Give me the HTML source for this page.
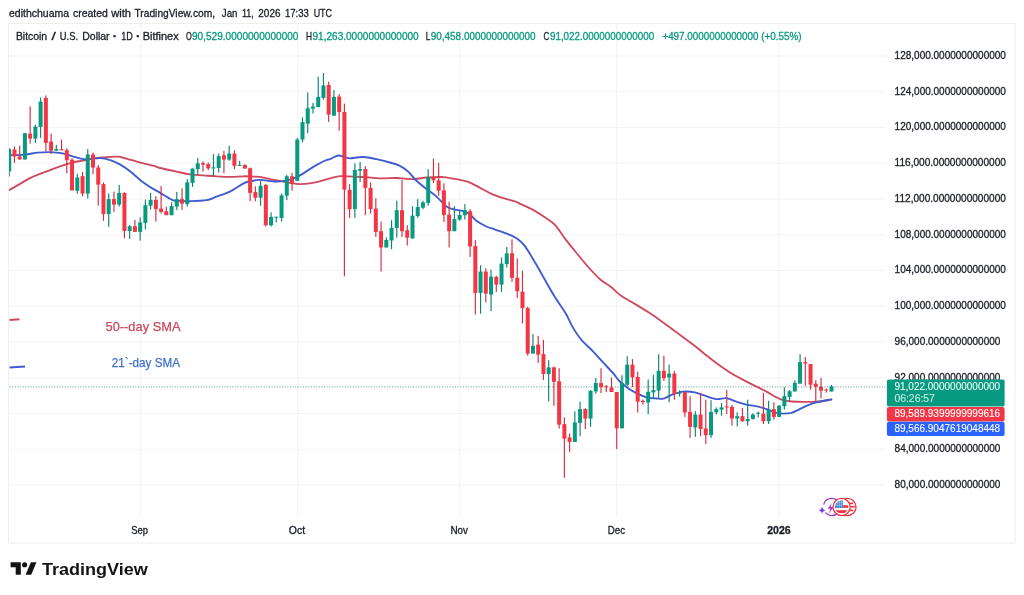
<!DOCTYPE html>
<html lang="en"><head><meta charset="utf-8"><title>BTCUSD chart</title>
<style>html,body{margin:0;padding:0;background:#fff;}svg{display:block;will-change:transform;transform:translateZ(0);}text{font-family:"Liberation Sans", sans-serif;paint-order:stroke;stroke-linejoin:round;}</style>
</head><body>
<svg width="1024" height="595" viewBox="0 0 1024 595">
<rect width="1024" height="595" fill="#ffffff"/>
<rect x="8.5" y="23.5" width="1006.5" height="519.5" fill="none" stroke="#eeeeef" stroke-width="1"/>
<g stroke="#f3f3f4" stroke-width="1">
<line x1="9" y1="56.00" x2="885.5" y2="56.00"/>
<line x1="9" y1="91.75" x2="885.5" y2="91.75"/>
<line x1="9" y1="127.50" x2="885.5" y2="127.50"/>
<line x1="9" y1="163.25" x2="885.5" y2="163.25"/>
<line x1="9" y1="199.00" x2="885.5" y2="199.00"/>
<line x1="9" y1="234.75" x2="885.5" y2="234.75"/>
<line x1="9" y1="270.50" x2="885.5" y2="270.50"/>
<line x1="9" y1="306.25" x2="885.5" y2="306.25"/>
<line x1="9" y1="342.00" x2="885.5" y2="342.00"/>
<line x1="9" y1="377.75" x2="885.5" y2="377.75"/>
<line x1="9" y1="413.50" x2="885.5" y2="413.50"/>
<line x1="9" y1="449.25" x2="885.5" y2="449.25"/>
<line x1="9" y1="485.00" x2="885.5" y2="485.00"/>
<line x1="140.40" y1="24" x2="140.40" y2="517"/>
<line x1="297.60" y1="24" x2="297.60" y2="517"/>
<line x1="459.80" y1="24" x2="459.80" y2="517"/>
<line x1="616.60" y1="24" x2="616.60" y2="517"/>
<line x1="779.10" y1="24" x2="779.10" y2="517"/>
</g>
<defs><clipPath id="cp"><rect x="9" y="24" width="877" height="493"/></clipPath></defs>
<line x1="9.6" y1="386.9" x2="885.4" y2="386.9" stroke="#5f9f93" stroke-width="1.4" stroke-dasharray="1.0 1.62" opacity="0.85"/>
<g clip-path="url(#cp)" fill="none" stroke-width="1.85" stroke-linejoin="round" stroke-linecap="round">
<path d="M8.6 190.4 C10.5 189.3 16.4 186.0 20.0 183.9 C23.6 181.8 26.7 179.8 30.0 178.1 C33.3 176.4 36.7 175.2 40.0 173.9 C43.3 172.6 46.7 171.3 50.0 170.1 C53.3 168.8 56.7 167.6 60.0 166.4 C63.3 165.2 66.2 164.1 70.0 163.1 C73.8 162.1 78.5 161.4 82.7 160.6 C86.9 159.8 91.4 158.7 95.2 158.1 C99.0 157.5 101.5 157.3 105.3 157.1 C109.1 156.8 114.5 156.4 117.8 156.6 C121.1 156.8 121.5 157.3 125.3 158.3 C129.1 159.3 135.4 161.2 140.4 162.6 C145.4 163.9 152.1 165.5 155.4 166.4 C158.7 167.3 156.5 167.1 160.0 168.0 C163.5 168.9 171.6 170.5 176.6 171.6 C181.6 172.7 185.6 173.8 190.0 174.4 C194.4 175.0 198.9 175.1 203.3 175.4 C207.7 175.7 212.2 176.1 216.6 176.3 C221.0 176.6 225.5 176.9 229.9 176.9 C234.3 176.9 239.3 176.4 243.2 176.3 C247.1 176.2 250.4 176.5 253.2 176.6 C256.0 176.7 257.0 176.5 259.8 176.9 C262.6 177.3 266.5 178.4 269.8 179.1 C273.1 179.8 276.5 180.2 279.8 180.8 C283.1 181.4 286.5 182.4 289.8 182.9 C293.1 183.4 296.5 184.0 299.8 184.1 C303.1 184.2 306.5 183.8 309.8 183.3 C313.1 182.8 316.3 182.1 319.7 181.3 C323.1 180.5 326.9 179.1 330.0 178.3 C333.1 177.5 335.5 176.6 338.3 176.3 C341.1 176.0 342.4 176.2 346.6 176.3 C350.8 176.4 357.8 176.7 363.3 177.0 C368.9 177.3 374.3 178.1 379.9 178.3 C385.4 178.5 391.1 177.9 396.6 178.0 C402.2 178.1 408.2 179.2 413.2 179.1 C418.2 179.0 422.1 177.8 426.5 177.5 C430.9 177.2 436.6 177.0 439.8 177.0 C443.1 177.0 443.2 176.9 446.0 177.3 C448.8 177.7 452.9 178.5 456.5 179.2 C460.1 179.9 464.6 180.8 467.5 181.7 C470.4 182.6 471.8 183.5 474.0 184.6 C476.2 185.7 477.7 186.5 480.6 188.1 C483.5 189.7 487.9 192.3 491.5 193.9 C495.1 195.5 498.5 196.7 502.4 197.9 C506.3 199.2 512.0 200.4 515.0 201.4 C518.0 202.4 517.1 202.4 520.1 203.8 C523.1 205.2 528.5 207.3 532.7 209.6 C536.9 211.9 541.5 215.0 545.2 217.6 C549.0 220.2 551.9 221.5 555.2 225.1 C558.5 228.7 561.9 234.5 565.2 238.9 C568.6 243.3 571.5 246.9 575.3 251.5 C579.1 256.1 583.6 261.8 587.8 266.5 C592.0 271.2 596.5 276.2 600.3 279.5 C604.1 282.8 607.0 283.9 610.4 286.5 C613.8 289.1 616.6 292.6 620.4 295.3 C624.1 298.0 628.7 300.3 632.9 302.8 C637.1 305.3 640.9 307.5 645.4 310.4 C649.9 313.2 651.7 314.1 659.7 319.9 C667.7 325.7 686.1 339.3 693.6 345.0 C701.1 350.7 701.1 351.1 704.9 354.2 C708.7 357.2 712.4 360.2 716.6 363.3 C720.8 366.4 725.5 369.7 729.9 372.5 C734.3 375.3 738.8 377.5 743.2 379.9 C747.6 382.2 752.6 384.7 756.5 386.6 C760.4 388.6 763.2 389.8 766.5 391.6 C769.8 393.4 773.7 395.9 776.5 397.3 C779.3 398.7 780.6 399.5 783.1 400.2 C785.6 400.9 788.1 401.2 791.4 401.5 C794.7 401.8 798.9 401.9 803.1 401.9 C807.3 401.9 811.7 402.1 816.4 401.7 C821.1 401.3 828.9 400.0 831.4 399.7" stroke="#cf495e"/>
<path d="M8.6 155.2 C11.3 155.1 20.2 155.0 25.0 154.6 C29.8 154.2 33.4 153.0 37.6 152.6 C41.8 152.2 45.9 152.0 50.1 152.1 C54.3 152.2 58.5 152.5 62.7 153.3 C66.9 154.1 71.5 156.1 75.2 157.1 C79.0 158.1 81.0 159.1 85.2 159.3 C89.4 159.5 96.1 158.0 100.3 158.1 C104.5 158.2 107.0 159.0 110.3 160.1 C113.6 161.2 117.0 162.7 120.3 164.6 C123.6 166.5 127.0 168.8 130.3 171.4 C133.7 174.0 137.1 177.6 140.4 180.2 C143.8 182.8 147.1 185.1 150.4 187.2 C153.7 189.3 156.9 190.8 160.4 192.9 C163.9 195.0 168.9 198.3 171.6 199.6 C174.3 200.9 173.5 200.4 176.6 200.7 C179.7 201.0 185.0 201.3 190.0 201.2 C195.0 201.1 202.2 201.0 206.6 200.2 C211.0 199.4 212.7 198.0 216.6 196.6 C220.5 195.2 225.5 193.8 229.9 191.6 C234.3 189.4 239.9 185.3 243.2 183.6 C246.5 181.9 247.1 181.9 249.9 181.3 C252.7 180.7 256.8 180.0 259.8 179.9 C262.9 179.8 265.4 180.5 268.2 180.8 C271.0 181.1 273.7 181.6 276.5 181.6 C279.3 181.6 282.0 181.3 284.8 180.8 C287.6 180.3 290.3 179.6 293.1 178.6 C295.9 177.6 298.6 176.2 301.4 174.6 C304.2 173.0 307.0 170.8 309.8 169.1 C312.6 167.3 315.3 165.6 318.1 164.1 C320.9 162.6 324.4 160.8 326.4 160.0 C328.4 159.2 328.6 159.7 330.0 159.2 C331.4 158.7 333.1 157.5 334.5 156.9 C335.9 156.3 337.2 155.6 338.5 155.5 C339.8 155.4 341.2 156.0 342.5 156.4 C343.8 156.8 345.2 157.4 346.5 157.7 C347.8 158.0 347.7 158.4 350.5 158.3 C353.3 158.2 358.9 156.8 363.3 157.0 C367.7 157.2 372.2 158.3 376.6 159.2 C381.0 160.1 386.0 161.4 389.9 162.5 C393.8 163.6 396.8 164.3 399.9 165.8 C402.9 167.3 405.4 169.1 408.2 171.6 C411.0 174.1 413.4 177.9 416.5 180.8 C419.6 183.7 423.2 186.5 426.5 189.1 C429.8 191.7 433.2 193.7 436.5 196.6 C439.8 199.5 443.7 204.5 446.5 206.6 C449.3 208.7 450.3 208.3 453.1 209.1 C455.9 209.9 460.3 210.4 463.1 211.2 C465.9 212.0 467.6 212.5 469.8 214.1 C472.0 215.7 473.6 218.6 476.4 220.7 C479.2 222.8 483.3 225.0 486.4 226.5 C489.5 228.0 491.6 228.3 495.1 229.5 C498.6 230.7 503.9 232.3 507.6 233.9 C511.4 235.5 514.7 236.8 517.6 238.9 C520.5 241.0 522.2 242.4 525.1 246.4 C528.0 250.4 531.9 257.1 535.2 262.7 C538.6 268.3 542.0 274.6 545.2 280.3 C548.4 286.0 551.2 291.1 554.6 296.6 C558.0 302.1 562.6 308.3 565.6 313.3 C568.6 318.3 569.9 322.3 572.4 326.6 C574.9 330.9 577.3 334.9 580.8 339.1 C584.3 343.3 589.5 347.7 593.2 351.6 C596.9 355.5 599.8 358.8 603.1 362.4 C606.4 366.0 610.3 370.0 613.1 373.2 C615.9 376.4 617.3 379.0 619.8 381.5 C622.3 384.0 625.3 386.2 628.1 388.2 C630.9 390.1 633.4 391.7 636.4 393.2 C639.4 394.7 643.1 396.4 646.4 397.3 C649.7 398.2 653.6 398.3 656.4 398.5 C659.2 398.7 660.8 399.2 663.3 398.6 C665.8 398.0 668.3 396.1 671.6 394.9 C674.9 393.7 679.4 392.0 683.3 391.6 C687.2 391.2 691.3 391.7 694.9 392.4 C698.5 393.1 701.3 394.6 704.9 395.7 C708.5 396.8 713.0 398.7 716.6 399.1 C720.2 399.5 723.2 397.8 726.5 398.2 C729.8 398.6 733.2 400.5 736.5 401.6 C739.8 402.7 742.9 403.8 746.5 404.6 C750.1 405.4 754.9 405.9 758.2 406.6 C761.5 407.4 763.5 408.1 766.5 409.1 C769.5 410.2 773.7 412.1 776.5 412.9 C779.3 413.6 780.6 413.6 783.1 413.6 C785.6 413.6 788.6 413.6 791.4 412.9 C794.2 412.1 797.0 410.4 799.8 409.1 C802.6 407.8 805.3 406.3 808.1 405.2 C810.9 404.1 812.5 403.4 816.4 402.4 C820.3 401.4 828.9 399.9 831.4 399.4" stroke="#405ad0"/>
</g>
<g clip-path="url(#cp)">
<rect x="8.62" y="148.30" width="1.15" height="28.20" fill="#0b8571"/>
<rect x="7.20" y="149.00" width="4.00" height="22.40" fill="#089981"/>
<rect x="13.86" y="146.50" width="1.15" height="16.40" fill="#d22f40"/>
<rect x="12.44" y="149.50" width="4.00" height="7.00" fill="#f23645"/>
<rect x="19.10" y="145.70" width="1.15" height="13.80" fill="#d22f40"/>
<rect x="17.67" y="156.50" width="4.00" height="3.00" fill="#f23645"/>
<rect x="24.34" y="132.90" width="1.15" height="26.60" fill="#0b8571"/>
<rect x="22.91" y="133.20" width="4.00" height="26.30" fill="#089981"/>
<rect x="29.57" y="106.30" width="1.15" height="37.30" fill="#d22f40"/>
<rect x="28.15" y="133.60" width="4.00" height="5.00" fill="#f23645"/>
<rect x="34.81" y="124.90" width="1.15" height="18.00" fill="#0b8571"/>
<rect x="33.39" y="126.60" width="4.00" height="12.00" fill="#089981"/>
<rect x="40.05" y="97.50" width="1.15" height="40.40" fill="#0b8571"/>
<rect x="38.62" y="101.60" width="4.00" height="25.30" fill="#089981"/>
<rect x="45.29" y="95.30" width="1.15" height="55.90" fill="#d22f40"/>
<rect x="43.86" y="98.00" width="4.00" height="44.90" fill="#f23645"/>
<rect x="50.52" y="133.60" width="1.15" height="20.40" fill="#d22f40"/>
<rect x="49.10" y="141.60" width="4.00" height="9.10" fill="#f23645"/>
<rect x="55.76" y="144.90" width="1.15" height="5.80" fill="#0b8571"/>
<rect x="54.34" y="149.00" width="4.00" height="1.70" fill="#089981"/>
<rect x="61.00" y="139.60" width="1.15" height="10.60" fill="#d22f40"/>
<rect x="59.58" y="149.35" width="4.00" height="1.00" fill="#f23645"/>
<rect x="66.24" y="148.20" width="1.15" height="25.20" fill="#d22f40"/>
<rect x="64.81" y="150.20" width="4.00" height="10.00" fill="#f23645"/>
<rect x="71.47" y="158.30" width="1.15" height="32.10" fill="#d22f40"/>
<rect x="70.05" y="159.70" width="4.00" height="30.70" fill="#f23645"/>
<rect x="76.71" y="173.60" width="1.15" height="20.00" fill="#0b8571"/>
<rect x="75.29" y="177.50" width="4.00" height="13.30" fill="#089981"/>
<rect x="81.95" y="172.00" width="1.15" height="24.30" fill="#d22f40"/>
<rect x="80.53" y="176.10" width="4.00" height="17.50" fill="#f23645"/>
<rect x="87.19" y="149.00" width="1.15" height="49.60" fill="#0b8571"/>
<rect x="85.76" y="154.50" width="4.00" height="39.10" fill="#089981"/>
<rect x="92.42" y="152.50" width="1.15" height="21.60" fill="#d22f40"/>
<rect x="91.00" y="154.50" width="4.00" height="13.00" fill="#f23645"/>
<rect x="97.66" y="165.00" width="1.15" height="40.70" fill="#d22f40"/>
<rect x="96.24" y="167.50" width="4.00" height="17.10" fill="#f23645"/>
<rect x="102.90" y="182.40" width="1.15" height="38.30" fill="#d22f40"/>
<rect x="101.47" y="184.10" width="4.00" height="30.00" fill="#f23645"/>
<rect x="108.14" y="193.60" width="1.15" height="33.30" fill="#0b8571"/>
<rect x="106.71" y="199.10" width="4.00" height="15.00" fill="#089981"/>
<rect x="113.38" y="191.60" width="1.15" height="20.30" fill="#d22f40"/>
<rect x="111.95" y="199.10" width="4.00" height="5.50" fill="#f23645"/>
<rect x="118.61" y="184.90" width="1.15" height="21.70" fill="#0b8571"/>
<rect x="117.19" y="192.90" width="4.00" height="11.70" fill="#089981"/>
<rect x="123.85" y="192.40" width="1.15" height="45.80" fill="#d22f40"/>
<rect x="122.42" y="192.90" width="4.00" height="38.10" fill="#f23645"/>
<rect x="129.09" y="224.90" width="1.15" height="14.10" fill="#0b8571"/>
<rect x="127.66" y="226.20" width="4.00" height="4.80" fill="#089981"/>
<rect x="134.32" y="219.90" width="1.15" height="12.00" fill="#d22f40"/>
<rect x="132.90" y="226.20" width="4.00" height="5.70" fill="#f23645"/>
<rect x="139.56" y="217.40" width="1.15" height="23.30" fill="#0b8571"/>
<rect x="138.14" y="222.40" width="4.00" height="9.50" fill="#089981"/>
<rect x="144.80" y="199.60" width="1.15" height="29.90" fill="#0b8571"/>
<rect x="143.37" y="205.20" width="4.00" height="17.70" fill="#089981"/>
<rect x="150.04" y="192.90" width="1.15" height="16.70" fill="#0b8571"/>
<rect x="148.61" y="199.90" width="4.00" height="5.80" fill="#089981"/>
<rect x="155.28" y="196.30" width="1.15" height="25.20" fill="#d22f40"/>
<rect x="153.85" y="199.90" width="4.00" height="9.20" fill="#f23645"/>
<rect x="160.51" y="186.00" width="1.15" height="27.40" fill="#d22f40"/>
<rect x="159.09" y="208.60" width="4.00" height="3.30" fill="#f23645"/>
<rect x="165.75" y="206.80" width="1.15" height="8.40" fill="#d22f40"/>
<rect x="164.32" y="211.20" width="4.00" height="4.00" fill="#f23645"/>
<rect x="170.99" y="202.40" width="1.15" height="12.80" fill="#0b8571"/>
<rect x="169.56" y="206.10" width="4.00" height="9.10" fill="#089981"/>
<rect x="176.22" y="191.90" width="1.15" height="18.00" fill="#0b8571"/>
<rect x="174.80" y="199.10" width="4.00" height="7.50" fill="#089981"/>
<rect x="181.46" y="188.30" width="1.15" height="21.60" fill="#d22f40"/>
<rect x="180.04" y="199.10" width="4.00" height="4.50" fill="#f23645"/>
<rect x="186.70" y="179.10" width="1.15" height="27.50" fill="#0b8571"/>
<rect x="185.27" y="182.40" width="4.00" height="21.70" fill="#089981"/>
<rect x="191.94" y="168.30" width="1.15" height="18.60" fill="#0b8571"/>
<rect x="190.51" y="168.60" width="4.00" height="14.30" fill="#089981"/>
<rect x="197.17" y="158.00" width="1.15" height="16.60" fill="#0b8571"/>
<rect x="195.75" y="163.30" width="4.00" height="5.80" fill="#089981"/>
<rect x="202.41" y="161.30" width="1.15" height="10.30" fill="#d22f40"/>
<rect x="200.99" y="163.00" width="4.00" height="1.60" fill="#f23645"/>
<rect x="207.65" y="162.50" width="1.15" height="7.50" fill="#d22f40"/>
<rect x="206.22" y="164.10" width="4.00" height="4.20" fill="#f23645"/>
<rect x="212.89" y="154.10" width="1.15" height="21.70" fill="#0b8571"/>
<rect x="211.46" y="167.40" width="4.00" height="1.00" fill="#089981"/>
<rect x="218.12" y="153.60" width="1.15" height="18.80" fill="#0b8571"/>
<rect x="216.70" y="156.10" width="4.00" height="11.90" fill="#089981"/>
<rect x="223.36" y="150.80" width="1.15" height="22.50" fill="#d22f40"/>
<rect x="221.94" y="155.30" width="4.00" height="4.30" fill="#f23645"/>
<rect x="228.60" y="145.80" width="1.15" height="15.00" fill="#0b8571"/>
<rect x="227.17" y="153.60" width="4.00" height="6.00" fill="#089981"/>
<rect x="233.84" y="150.30" width="1.15" height="18.80" fill="#d22f40"/>
<rect x="232.41" y="153.60" width="4.00" height="12.20" fill="#f23645"/>
<rect x="239.07" y="160.80" width="1.15" height="5.00" fill="#0b8571"/>
<rect x="237.65" y="164.90" width="4.00" height="1.00" fill="#089981"/>
<rect x="244.31" y="164.20" width="1.15" height="4.40" fill="#d22f40"/>
<rect x="242.89" y="165.00" width="4.00" height="3.60" fill="#f23645"/>
<rect x="249.55" y="167.50" width="1.15" height="33.70" fill="#d22f40"/>
<rect x="248.12" y="168.30" width="4.00" height="24.60" fill="#f23645"/>
<rect x="254.79" y="186.30" width="1.15" height="14.90" fill="#d22f40"/>
<rect x="253.36" y="192.10" width="4.00" height="5.60" fill="#f23645"/>
<rect x="260.02" y="180.80" width="1.15" height="24.90" fill="#0b8571"/>
<rect x="258.60" y="185.80" width="4.00" height="11.90" fill="#089981"/>
<rect x="265.26" y="184.10" width="1.15" height="42.40" fill="#d22f40"/>
<rect x="263.84" y="184.90" width="4.00" height="40.30" fill="#f23645"/>
<rect x="270.50" y="212.40" width="1.15" height="14.10" fill="#0b8571"/>
<rect x="269.07" y="216.90" width="4.00" height="8.30" fill="#089981"/>
<rect x="275.74" y="216.90" width="1.15" height="5.50" fill="#0b8571"/>
<rect x="274.31" y="216.70" width="4.00" height="1.00" fill="#089981"/>
<rect x="280.97" y="193.60" width="1.15" height="27.90" fill="#0b8571"/>
<rect x="279.55" y="195.40" width="4.00" height="22.50" fill="#089981"/>
<rect x="286.21" y="174.90" width="1.15" height="25.30" fill="#0b8571"/>
<rect x="284.79" y="176.30" width="4.00" height="19.40" fill="#089981"/>
<rect x="291.45" y="172.90" width="1.15" height="17.80" fill="#d22f40"/>
<rect x="290.02" y="176.30" width="4.00" height="6.60" fill="#f23645"/>
<rect x="296.69" y="137.90" width="1.15" height="42.90" fill="#0b8571"/>
<rect x="295.26" y="139.50" width="4.00" height="41.30" fill="#089981"/>
<rect x="301.93" y="117.40" width="1.15" height="25.00" fill="#0b8571"/>
<rect x="300.50" y="122.10" width="4.00" height="17.40" fill="#089981"/>
<rect x="307.16" y="92.40" width="1.15" height="40.80" fill="#0b8571"/>
<rect x="305.74" y="108.30" width="4.00" height="15.40" fill="#089981"/>
<rect x="312.40" y="102.90" width="1.15" height="10.70" fill="#0b8571"/>
<rect x="310.97" y="106.60" width="4.00" height="2.00" fill="#089981"/>
<rect x="317.64" y="76.60" width="1.15" height="30.50" fill="#0b8571"/>
<rect x="316.21" y="96.90" width="4.00" height="10.20" fill="#089981"/>
<rect x="322.88" y="73.00" width="1.15" height="26.60" fill="#0b8571"/>
<rect x="321.45" y="85.50" width="4.00" height="12.40" fill="#089981"/>
<rect x="328.11" y="81.60" width="1.15" height="40.30" fill="#d22f40"/>
<rect x="326.69" y="85.00" width="4.00" height="29.60" fill="#f23645"/>
<rect x="333.35" y="90.00" width="1.15" height="25.70" fill="#0b8571"/>
<rect x="331.92" y="96.90" width="4.00" height="18.80" fill="#089981"/>
<rect x="338.59" y="94.10" width="1.15" height="36.60" fill="#d22f40"/>
<rect x="337.16" y="96.60" width="4.00" height="15.50" fill="#f23645"/>
<rect x="343.82" y="103.60" width="1.15" height="172.70" fill="#d22f40"/>
<rect x="342.40" y="111.90" width="4.00" height="77.70" fill="#f23645"/>
<rect x="349.06" y="184.10" width="1.15" height="33.80" fill="#d22f40"/>
<rect x="347.64" y="189.90" width="4.00" height="19.20" fill="#f23645"/>
<rect x="354.30" y="163.30" width="1.15" height="54.60" fill="#0b8571"/>
<rect x="352.88" y="170.00" width="4.00" height="39.10" fill="#089981"/>
<rect x="359.54" y="162.00" width="1.15" height="20.00" fill="#0b8571"/>
<rect x="358.11" y="169.10" width="4.00" height="1.70" fill="#089981"/>
<rect x="364.77" y="166.30" width="1.15" height="48.90" fill="#d22f40"/>
<rect x="363.35" y="169.10" width="4.00" height="18.80" fill="#f23645"/>
<rect x="370.01" y="182.40" width="1.15" height="31.20" fill="#d22f40"/>
<rect x="368.59" y="187.90" width="4.00" height="21.20" fill="#f23645"/>
<rect x="375.25" y="198.30" width="1.15" height="38.60" fill="#d22f40"/>
<rect x="373.82" y="208.60" width="4.00" height="23.30" fill="#f23645"/>
<rect x="380.49" y="221.50" width="1.15" height="50.10" fill="#d22f40"/>
<rect x="379.06" y="231.20" width="4.00" height="16.30" fill="#f23645"/>
<rect x="385.72" y="237.50" width="1.15" height="10.00" fill="#0b8571"/>
<rect x="384.30" y="240.00" width="4.00" height="7.50" fill="#089981"/>
<rect x="390.96" y="220.20" width="1.15" height="28.90" fill="#0b8571"/>
<rect x="389.54" y="227.90" width="4.00" height="12.60" fill="#089981"/>
<rect x="396.20" y="200.70" width="1.15" height="37.00" fill="#0b8571"/>
<rect x="394.77" y="210.20" width="4.00" height="17.70" fill="#089981"/>
<rect x="401.44" y="180.00" width="1.15" height="56.90" fill="#d22f40"/>
<rect x="400.01" y="210.20" width="4.00" height="21.00" fill="#f23645"/>
<rect x="406.68" y="225.20" width="1.15" height="20.30" fill="#d22f40"/>
<rect x="405.25" y="230.20" width="4.00" height="7.50" fill="#f23645"/>
<rect x="411.91" y="206.20" width="1.15" height="32.30" fill="#0b8571"/>
<rect x="410.49" y="215.70" width="4.00" height="22.80" fill="#089981"/>
<rect x="417.15" y="199.10" width="1.15" height="18.80" fill="#0b8571"/>
<rect x="415.72" y="207.10" width="4.00" height="9.00" fill="#089981"/>
<rect x="422.39" y="200.70" width="1.15" height="8.40" fill="#0b8571"/>
<rect x="420.96" y="202.40" width="4.00" height="5.30" fill="#089981"/>
<rect x="427.62" y="169.10" width="1.15" height="36.60" fill="#0b8571"/>
<rect x="426.20" y="177.00" width="4.00" height="25.90" fill="#089981"/>
<rect x="432.86" y="158.70" width="1.15" height="24.20" fill="#d22f40"/>
<rect x="431.44" y="177.00" width="4.00" height="3.30" fill="#f23645"/>
<rect x="438.10" y="163.00" width="1.15" height="32.80" fill="#d22f40"/>
<rect x="436.67" y="180.30" width="4.00" height="10.50" fill="#f23645"/>
<rect x="443.34" y="183.30" width="1.15" height="38.60" fill="#d22f40"/>
<rect x="441.91" y="190.30" width="4.00" height="24.60" fill="#f23645"/>
<rect x="448.57" y="201.60" width="1.15" height="45.80" fill="#d22f40"/>
<rect x="447.15" y="214.60" width="4.00" height="16.60" fill="#f23645"/>
<rect x="453.81" y="206.20" width="1.15" height="25.00" fill="#0b8571"/>
<rect x="452.39" y="219.10" width="4.00" height="12.10" fill="#089981"/>
<rect x="459.05" y="210.20" width="1.15" height="10.50" fill="#0b8571"/>
<rect x="457.62" y="214.90" width="4.00" height="4.70" fill="#089981"/>
<rect x="464.29" y="204.10" width="1.15" height="15.50" fill="#0b8571"/>
<rect x="462.86" y="210.20" width="4.00" height="5.00" fill="#089981"/>
<rect x="469.52" y="209.10" width="1.15" height="47.90" fill="#d22f40"/>
<rect x="468.10" y="211.20" width="4.00" height="35.30" fill="#f23645"/>
<rect x="474.76" y="240.10" width="1.15" height="74.40" fill="#d22f40"/>
<rect x="473.34" y="246.10" width="4.00" height="46.80" fill="#f23645"/>
<rect x="480.00" y="265.30" width="1.15" height="48.40" fill="#0b8571"/>
<rect x="478.57" y="271.60" width="4.00" height="21.30" fill="#089981"/>
<rect x="485.24" y="268.30" width="1.15" height="34.10" fill="#d22f40"/>
<rect x="483.81" y="271.60" width="4.00" height="22.00" fill="#f23645"/>
<rect x="490.47" y="269.60" width="1.15" height="41.60" fill="#0b8571"/>
<rect x="489.05" y="276.60" width="4.00" height="18.00" fill="#089981"/>
<rect x="495.71" y="275.80" width="1.15" height="16.10" fill="#d22f40"/>
<rect x="494.29" y="276.90" width="4.00" height="7.70" fill="#f23645"/>
<rect x="500.95" y="257.50" width="1.15" height="34.40" fill="#0b8571"/>
<rect x="499.52" y="263.60" width="4.00" height="21.00" fill="#089981"/>
<rect x="506.19" y="247.00" width="1.15" height="20.40" fill="#0b8571"/>
<rect x="504.76" y="253.30" width="4.00" height="10.80" fill="#089981"/>
<rect x="511.42" y="239.20" width="1.15" height="42.70" fill="#d22f40"/>
<rect x="510.00" y="253.30" width="4.00" height="24.60" fill="#f23645"/>
<rect x="516.66" y="258.30" width="1.15" height="39.60" fill="#d22f40"/>
<rect x="515.24" y="277.80" width="4.00" height="13.40" fill="#f23645"/>
<rect x="521.90" y="270.80" width="1.15" height="52.60" fill="#d22f40"/>
<rect x="520.48" y="291.60" width="4.00" height="16.50" fill="#f23645"/>
<rect x="527.14" y="306.70" width="1.15" height="49.00" fill="#d22f40"/>
<rect x="525.71" y="308.10" width="4.00" height="45.50" fill="#f23645"/>
<rect x="532.38" y="334.10" width="1.15" height="19.50" fill="#0b8571"/>
<rect x="530.95" y="345.80" width="4.00" height="7.80" fill="#089981"/>
<rect x="537.61" y="335.80" width="1.15" height="27.10" fill="#d22f40"/>
<rect x="536.19" y="344.60" width="4.00" height="10.00" fill="#f23645"/>
<rect x="542.85" y="339.90" width="1.15" height="40.00" fill="#d22f40"/>
<rect x="541.43" y="354.10" width="4.00" height="19.90" fill="#f23645"/>
<rect x="548.09" y="360.20" width="1.15" height="41.10" fill="#0b8571"/>
<rect x="546.66" y="367.40" width="4.00" height="6.60" fill="#089981"/>
<rect x="553.32" y="366.60" width="1.15" height="39.20" fill="#d22f40"/>
<rect x="551.90" y="367.40" width="4.00" height="14.40" fill="#f23645"/>
<rect x="558.56" y="368.20" width="1.15" height="60.40" fill="#d22f40"/>
<rect x="557.14" y="381.30" width="4.00" height="43.30" fill="#f23645"/>
<rect x="563.80" y="417.40" width="1.15" height="60.40" fill="#d22f40"/>
<rect x="562.38" y="424.10" width="4.00" height="14.50" fill="#f23645"/>
<rect x="569.04" y="433.60" width="1.15" height="18.30" fill="#d22f40"/>
<rect x="567.61" y="437.40" width="4.00" height="4.50" fill="#f23645"/>
<rect x="574.27" y="411.30" width="1.15" height="30.60" fill="#0b8571"/>
<rect x="572.85" y="422.40" width="4.00" height="19.50" fill="#089981"/>
<rect x="579.51" y="401.60" width="1.15" height="34.60" fill="#0b8571"/>
<rect x="578.09" y="409.10" width="4.00" height="13.80" fill="#089981"/>
<rect x="584.75" y="408.30" width="1.15" height="20.80" fill="#d22f40"/>
<rect x="583.33" y="409.10" width="4.00" height="9.50" fill="#f23645"/>
<rect x="589.99" y="390.00" width="1.15" height="36.90" fill="#0b8571"/>
<rect x="588.56" y="390.80" width="4.00" height="27.80" fill="#089981"/>
<rect x="595.23" y="377.90" width="1.15" height="15.90" fill="#0b8571"/>
<rect x="593.80" y="383.00" width="4.00" height="8.40" fill="#089981"/>
<rect x="600.46" y="368.20" width="1.15" height="24.90" fill="#d22f40"/>
<rect x="599.04" y="383.10" width="4.00" height="3.90" fill="#f23645"/>
<rect x="605.70" y="385.00" width="1.15" height="7.20" fill="#d22f40"/>
<rect x="604.27" y="386.35" width="4.00" height="1.00" fill="#f23645"/>
<rect x="610.94" y="377.40" width="1.15" height="14.60" fill="#d22f40"/>
<rect x="609.51" y="387.50" width="4.00" height="4.50" fill="#f23645"/>
<rect x="616.17" y="392.00" width="1.15" height="57.10" fill="#d22f40"/>
<rect x="614.75" y="392.00" width="4.00" height="36.30" fill="#f23645"/>
<rect x="621.41" y="375.20" width="1.15" height="53.10" fill="#0b8571"/>
<rect x="619.99" y="383.00" width="4.00" height="45.30" fill="#089981"/>
<rect x="626.65" y="356.20" width="1.15" height="30.30" fill="#0b8571"/>
<rect x="625.23" y="364.60" width="4.00" height="20.20" fill="#089981"/>
<rect x="631.89" y="359.10" width="1.15" height="27.90" fill="#d22f40"/>
<rect x="630.46" y="364.60" width="4.00" height="12.80" fill="#f23645"/>
<rect x="637.12" y="371.50" width="1.15" height="40.90" fill="#d22f40"/>
<rect x="635.70" y="376.90" width="4.00" height="24.70" fill="#f23645"/>
<rect x="642.36" y="399.60" width="1.15" height="5.00" fill="#d22f40"/>
<rect x="640.94" y="400.80" width="4.00" height="1.20" fill="#f23645"/>
<rect x="647.60" y="379.50" width="1.15" height="34.60" fill="#0b8571"/>
<rect x="646.18" y="391.80" width="4.00" height="10.70" fill="#089981"/>
<rect x="652.84" y="374.90" width="1.15" height="24.10" fill="#0b8571"/>
<rect x="651.41" y="390.10" width="4.00" height="2.30" fill="#089981"/>
<rect x="658.07" y="354.20" width="1.15" height="44.00" fill="#0b8571"/>
<rect x="656.65" y="370.80" width="4.00" height="19.80" fill="#089981"/>
<rect x="663.31" y="355.80" width="1.15" height="25.00" fill="#d22f40"/>
<rect x="661.89" y="370.80" width="4.00" height="7.50" fill="#f23645"/>
<rect x="668.55" y="364.60" width="1.15" height="37.80" fill="#0b8571"/>
<rect x="667.12" y="373.60" width="4.00" height="3.80" fill="#089981"/>
<rect x="673.79" y="370.80" width="1.15" height="28.80" fill="#d22f40"/>
<rect x="672.36" y="373.60" width="4.00" height="20.50" fill="#f23645"/>
<rect x="679.02" y="390.30" width="1.15" height="6.30" fill="#0b8571"/>
<rect x="677.60" y="392.40" width="4.00" height="1.20" fill="#089981"/>
<rect x="684.26" y="392.10" width="1.15" height="24.80" fill="#d22f40"/>
<rect x="682.84" y="392.10" width="4.00" height="20.30" fill="#f23645"/>
<rect x="689.50" y="396.20" width="1.15" height="41.60" fill="#d22f40"/>
<rect x="688.08" y="411.90" width="4.00" height="15.00" fill="#f23645"/>
<rect x="694.74" y="411.20" width="1.15" height="25.60" fill="#0b8571"/>
<rect x="693.31" y="414.60" width="4.00" height="12.80" fill="#089981"/>
<rect x="699.98" y="392.90" width="1.15" height="43.30" fill="#d22f40"/>
<rect x="698.55" y="414.60" width="4.00" height="14.40" fill="#f23645"/>
<rect x="705.21" y="399.60" width="1.15" height="44.40" fill="#d22f40"/>
<rect x="703.79" y="428.50" width="4.00" height="6.70" fill="#f23645"/>
<rect x="710.45" y="400.20" width="1.15" height="37.60" fill="#0b8571"/>
<rect x="709.02" y="411.90" width="4.00" height="23.30" fill="#089981"/>
<rect x="715.69" y="407.40" width="1.15" height="7.20" fill="#0b8571"/>
<rect x="714.26" y="409.10" width="4.00" height="3.30" fill="#089981"/>
<rect x="720.92" y="402.90" width="1.15" height="12.80" fill="#0b8571"/>
<rect x="719.50" y="407.40" width="4.00" height="2.20" fill="#089981"/>
<rect x="726.16" y="389.90" width="1.15" height="24.10" fill="#d22f40"/>
<rect x="724.74" y="406.40" width="4.00" height="1.00" fill="#f23645"/>
<rect x="731.40" y="404.90" width="1.15" height="20.80" fill="#d22f40"/>
<rect x="729.98" y="406.90" width="4.00" height="11.60" fill="#f23645"/>
<rect x="736.64" y="412.40" width="1.15" height="14.10" fill="#0b8571"/>
<rect x="735.21" y="416.20" width="4.00" height="2.30" fill="#089981"/>
<rect x="741.88" y="407.90" width="1.15" height="14.00" fill="#d22f40"/>
<rect x="740.45" y="416.20" width="4.00" height="5.00" fill="#f23645"/>
<rect x="747.11" y="399.60" width="1.15" height="26.10" fill="#0b8571"/>
<rect x="745.69" y="419.00" width="4.00" height="2.20" fill="#089981"/>
<rect x="752.35" y="413.20" width="1.15" height="6.30" fill="#0b8571"/>
<rect x="750.93" y="414.60" width="4.00" height="4.40" fill="#089981"/>
<rect x="757.59" y="411.60" width="1.15" height="5.80" fill="#0b8571"/>
<rect x="756.16" y="412.75" width="4.00" height="1.00" fill="#089981"/>
<rect x="762.82" y="392.90" width="1.15" height="31.10" fill="#d22f40"/>
<rect x="761.40" y="413.60" width="4.00" height="7.60" fill="#f23645"/>
<rect x="768.06" y="400.70" width="1.15" height="23.30" fill="#0b8571"/>
<rect x="766.64" y="409.60" width="4.00" height="11.60" fill="#089981"/>
<rect x="773.30" y="402.40" width="1.15" height="17.10" fill="#d22f40"/>
<rect x="771.88" y="409.10" width="4.00" height="7.80" fill="#f23645"/>
<rect x="778.54" y="404.90" width="1.15" height="12.00" fill="#0b8571"/>
<rect x="777.11" y="405.70" width="4.00" height="11.20" fill="#089981"/>
<rect x="783.77" y="387.30" width="1.15" height="22.30" fill="#0b8571"/>
<rect x="782.35" y="396.20" width="4.00" height="10.00" fill="#089981"/>
<rect x="789.01" y="390.10" width="1.15" height="10.90" fill="#0b8571"/>
<rect x="787.59" y="391.20" width="4.00" height="5.70" fill="#089981"/>
<rect x="794.25" y="380.40" width="1.15" height="11.10" fill="#0b8571"/>
<rect x="792.83" y="382.90" width="4.00" height="8.60" fill="#089981"/>
<rect x="799.49" y="354.20" width="1.15" height="29.40" fill="#0b8571"/>
<rect x="798.06" y="362.10" width="4.00" height="21.50" fill="#089981"/>
<rect x="804.73" y="356.90" width="1.15" height="28.80" fill="#d22f40"/>
<rect x="803.30" y="362.10" width="4.00" height="1.40" fill="#f23645"/>
<rect x="809.96" y="364.00" width="1.15" height="25.60" fill="#d22f40"/>
<rect x="808.54" y="364.00" width="4.00" height="20.70" fill="#f23645"/>
<rect x="815.20" y="380.30" width="1.15" height="21.10" fill="#d22f40"/>
<rect x="813.77" y="383.70" width="4.00" height="3.10" fill="#f23645"/>
<rect x="820.44" y="377.90" width="1.15" height="20.60" fill="#d22f40"/>
<rect x="819.01" y="386.80" width="4.00" height="3.80" fill="#f23645"/>
<rect x="825.67" y="388.50" width="1.15" height="4.10" fill="#d22f40"/>
<rect x="824.25" y="389.65" width="4.00" height="1.00" fill="#f23645"/>
<rect x="830.91" y="385.00" width="1.15" height="6.50" fill="#0b8571"/>
<rect x="829.49" y="386.40" width="4.00" height="5.10" fill="#089981"/>
</g>
<path d="M9.5 320 L19.5 319.2" stroke="#cf495e" stroke-width="2" fill="none"/>
<path d="M9.5 367.4 L25 366.6" stroke="#405ad0" stroke-width="2" fill="none"/>
<text x="105.5" y="330.5" font-size="13.2" fill="#c9485b" stroke="#c9485b" stroke-width="0.25" textLength="75" lengthAdjust="spacingAndGlyphs">50--day SMA</text>
<text x="111.8" y="367" font-size="12.4" fill="#3f6fcc" stroke="#3f6fcc" stroke-width="0.25" textLength="68.2" lengthAdjust="spacingAndGlyphs">21`-day SMA</text>
<text y="16.6" font-size="10.6" fill="#1a1d27" stroke="#1a1d27" stroke-width="0.3"><tspan x="9.0" textLength="60.1" lengthAdjust="spacingAndGlyphs">edithchuama</tspan> <tspan x="73.0" textLength="34.9" lengthAdjust="spacingAndGlyphs">created</tspan> <tspan x="111.2" textLength="19.9" lengthAdjust="spacingAndGlyphs">with</tspan> <tspan x="134.5" textLength="80.6" lengthAdjust="spacingAndGlyphs">TradingView.com,</tspan> <tspan x="221.8" textLength="15.6" lengthAdjust="spacingAndGlyphs">Jan</tspan> <tspan x="241.9" textLength="11.9" lengthAdjust="spacingAndGlyphs">11,</tspan> <tspan x="258.3" textLength="22.2" lengthAdjust="spacingAndGlyphs">2026</tspan> <tspan x="284.9" textLength="23.9" lengthAdjust="spacingAndGlyphs">17:33</tspan> <tspan x="313.7" textLength="18.3" lengthAdjust="spacingAndGlyphs">UTC</tspan></text>
<text y="39.9" font-size="10.4" fill="#1a1d27" stroke="#1a1d27" stroke-width="0.3"><tspan x="15.9" textLength="31.2" lengthAdjust="spacingAndGlyphs">Bitcoin</tspan> <tspan x="51.5" textLength="4.3" lengthAdjust="spacingAndGlyphs">/</tspan> <tspan x="59.8" textLength="18.2" lengthAdjust="spacingAndGlyphs">U.S.</tspan> <tspan x="82.3" textLength="27.3" lengthAdjust="spacingAndGlyphs">Dollar</tspan> <tspan x="112.8" font-weight="bold" font-size="13">·</tspan> <tspan x="121.2" textLength="11.6" lengthAdjust="spacingAndGlyphs">1D</tspan> <tspan x="136.0" font-weight="bold" font-size="13">·</tspan> <tspan x="142.8" textLength="35.8" lengthAdjust="spacingAndGlyphs">Bitfinex</tspan></text>
<text x="185.9" y="39.9" font-size="10.2" fill="#1a1d27" textLength="5.8" lengthAdjust="spacingAndGlyphs" stroke="#1a1d27" stroke-width="0.3">O</text>
<text x="191.9" y="39.9" font-size="10.2" fill="#089981" textLength="106.6" lengthAdjust="spacingAndGlyphs" stroke="#089981" stroke-width="0.3">90,529.0000000000000</text>
<text x="305.9" y="39.9" font-size="10.2" fill="#1a1d27" textLength="6.0" lengthAdjust="spacingAndGlyphs" stroke="#1a1d27" stroke-width="0.3">H</text>
<text x="312.5" y="39.9" font-size="10.2" fill="#089981" textLength="106.2" lengthAdjust="spacingAndGlyphs" stroke="#089981" stroke-width="0.3">91,263.0000000000000</text>
<text x="425.8" y="39.9" font-size="10.2" fill="#1a1d27" textLength="4.6" lengthAdjust="spacingAndGlyphs" stroke="#1a1d27" stroke-width="0.3">L</text>
<text x="430.8" y="39.9" font-size="10.2" fill="#089981" textLength="104.8" lengthAdjust="spacingAndGlyphs" stroke="#089981" stroke-width="0.3">90,458.0000000000000</text>
<text x="543.5" y="39.9" font-size="10.2" fill="#1a1d27" textLength="5.8" lengthAdjust="spacingAndGlyphs" stroke="#1a1d27" stroke-width="0.3">C</text>
<text x="549.9" y="39.9" font-size="10.2" fill="#089981" textLength="104.4" lengthAdjust="spacingAndGlyphs" stroke="#089981" stroke-width="0.3">91,022.0000000000000</text>
<text x="662.4" y="39.9" font-size="10.2" fill="#089981" textLength="139.1" lengthAdjust="spacingAndGlyphs" stroke="#089981" stroke-width="0.3">+497.0000000000000 (+0.55%)</text>
<text x="894.6" y="58.8" font-size="10.2" fill="#1a1d27" textLength="111.3" lengthAdjust="spacingAndGlyphs" stroke="#1a1d27" stroke-width="0.3">128,000.0000000000000</text>
<text x="894.6" y="94.5" font-size="10.2" fill="#1a1d27" textLength="111.3" lengthAdjust="spacingAndGlyphs" stroke="#1a1d27" stroke-width="0.3">124,000.0000000000000</text>
<text x="894.6" y="130.3" font-size="10.2" fill="#1a1d27" textLength="111.3" lengthAdjust="spacingAndGlyphs" stroke="#1a1d27" stroke-width="0.3">120,000.0000000000000</text>
<text x="894.6" y="166.1" font-size="10.2" fill="#1a1d27" textLength="111.3" lengthAdjust="spacingAndGlyphs" stroke="#1a1d27" stroke-width="0.3">116,000.0000000000000</text>
<text x="894.6" y="201.8" font-size="10.2" fill="#1a1d27" textLength="111.3" lengthAdjust="spacingAndGlyphs" stroke="#1a1d27" stroke-width="0.3">112,000.0000000000000</text>
<text x="894.6" y="237.6" font-size="10.2" fill="#1a1d27" textLength="111.3" lengthAdjust="spacingAndGlyphs" stroke="#1a1d27" stroke-width="0.3">108,000.0000000000000</text>
<text x="894.6" y="273.3" font-size="10.2" fill="#1a1d27" textLength="111.3" lengthAdjust="spacingAndGlyphs" stroke="#1a1d27" stroke-width="0.3">104,000.0000000000000</text>
<text x="894.6" y="309.1" font-size="10.2" fill="#1a1d27" textLength="111.3" lengthAdjust="spacingAndGlyphs" stroke="#1a1d27" stroke-width="0.3">100,000.0000000000000</text>
<text x="894.6" y="344.8" font-size="10.2" fill="#1a1d27" textLength="105.8" lengthAdjust="spacingAndGlyphs" stroke="#1a1d27" stroke-width="0.3">96,000.0000000000000</text>
<text x="894.6" y="380.6" font-size="10.2" fill="#1a1d27" textLength="105.8" lengthAdjust="spacingAndGlyphs" stroke="#1a1d27" stroke-width="0.3">92,000.0000000000000</text>
<text x="894.6" y="416.3" font-size="10.2" fill="#1a1d27" textLength="105.8" lengthAdjust="spacingAndGlyphs" stroke="#1a1d27" stroke-width="0.3">88,000.0000000000000</text>
<text x="894.6" y="452.1" font-size="10.2" fill="#1a1d27" textLength="105.8" lengthAdjust="spacingAndGlyphs" stroke="#1a1d27" stroke-width="0.3">84,000.0000000000000</text>
<text x="894.6" y="487.8" font-size="10.2" fill="#1a1d27" textLength="105.8" lengthAdjust="spacingAndGlyphs" stroke="#1a1d27" stroke-width="0.3">80,000.0000000000000</text>
<rect x="886.9" y="379.4" width="117.7" height="27" rx="2" fill="#089981"/>
<rect x="886.9" y="407.1" width="117.7" height="14.3" rx="2" fill="#f23645"/>
<rect x="886.9" y="421.7" width="117.7" height="14.2" rx="2" fill="#2962ff"/>
<text x="894.4" y="389.6" font-size="10.2" fill="#e9fbf6" textLength="105.8" lengthAdjust="spacingAndGlyphs" stroke="#e9fbf6" stroke-width="0.1">91,022.0000000000000</text>
<text x="894.4" y="402.1" font-size="10.2" fill="#c4ece2" textLength="40.5" lengthAdjust="spacingAndGlyphs" stroke="#c4ece2" stroke-width="0.1">06:26:57</text>
<text x="894.4" y="416.5" font-size="10.2" fill="#ffffff" textLength="105.8" lengthAdjust="spacingAndGlyphs" stroke="#ffffff" stroke-width="0.1">89,589.9399999999616</text>
<text x="894.4" y="431.6" font-size="10.2" fill="#ffffff" textLength="105.8" lengthAdjust="spacingAndGlyphs" stroke="#ffffff" stroke-width="0.1">89,566.9047619048448</text>
<text x="139.7" y="533.6" font-size="10.2" fill="#1a1d27" textLength="16.7" lengthAdjust="spacingAndGlyphs" text-anchor="middle" stroke="#1a1d27" stroke-width="0.3">Sep</text>
<text x="296.9" y="533.6" font-size="10.2" fill="#1a1d27" textLength="16.3" lengthAdjust="spacingAndGlyphs" text-anchor="middle" stroke="#1a1d27" stroke-width="0.3">Oct</text>
<text x="459.2" y="533.6" font-size="10.2" fill="#1a1d27" textLength="17.6" lengthAdjust="spacingAndGlyphs" text-anchor="middle" stroke="#1a1d27" stroke-width="0.3">Nov</text>
<text x="616.4" y="533.6" font-size="10.2" fill="#1a1d27" textLength="17.2" lengthAdjust="spacingAndGlyphs" text-anchor="middle" stroke="#1a1d27" stroke-width="0.3">Dec</text>
<text x="778.9" y="533.6" font-size="10.2" fill="#1a1d27" textLength="23.4" lengthAdjust="spacingAndGlyphs" font-weight="bold" text-anchor="middle" stroke="#1a1d27" stroke-width="0.3">2026</text>
<g fill="none" stroke-width="1.3">
<circle cx="847.4" cy="507" r="8.6" stroke="#f23645" fill="#fff"/>
<path d="M841 503.4h12 M841 506.8h14 M841 510.4h12" stroke="#f23645" stroke-width="1.6"/>
<circle cx="831.8" cy="507" r="8.55" stroke="#9a3ec6" stroke-dasharray="20.5 8.8 100"/>
<path d="M831.6 503.2l-3.9 5.6h2.9l-2.3 5.1 5.6-6.8h-3.1z" fill="#b238c4" stroke="none"/>
<path d="M822.1 506.6c.5 2.5 1.3 3.3 3.8 3.7c-2.5.5-3.3 1.3-3.8 3.8c-.5-2.5-1.3-3.3-3.8-3.8c2.5-.4 3.3-1.2 3.8-3.7z" fill="#6a3df0" stroke="none"/>
<circle cx="841.6" cy="507" r="8.6" stroke="#f23645" fill="#fff"/>
<clipPath id="fl"><circle cx="841.6" cy="507" r="6.6"/></clipPath>
<g clip-path="url(#fl)" stroke="none"><rect x="834" y="500" width="16" height="14" fill="#fff"/><rect x="834" y="505.2" width="16" height="2.6" fill="#f23645"/><rect x="834" y="510.2" width="16" height="2.8" fill="#f23645"/><rect x="834" y="500" width="9" height="7.8" fill="#2f7fe0"/><path d="M834 502.6h9M834 505.2h9M837.2 500v7.8M839.6 500v7.8M841.6 500v7.8" stroke="#cfe3fb" stroke-width="0.5" fill="none"/></g>
</g>
<g fill="#131313">
<path d="M10.6 562.2h10.2v12.5h-5.1v-7.4h-5.1z"/>
<circle cx="24.6" cy="564.7" r="2.55"/>
<path d="M30.9 562.2h5.6l-5.3 12.5h-5.6z"/>
</g>
<text x="41.9" y="574.7" font-size="17.4" font-weight="bold" fill="#131313" textLength="105.8" lengthAdjust="spacingAndGlyphs">TradingView</text>
</svg>
</body></html>
